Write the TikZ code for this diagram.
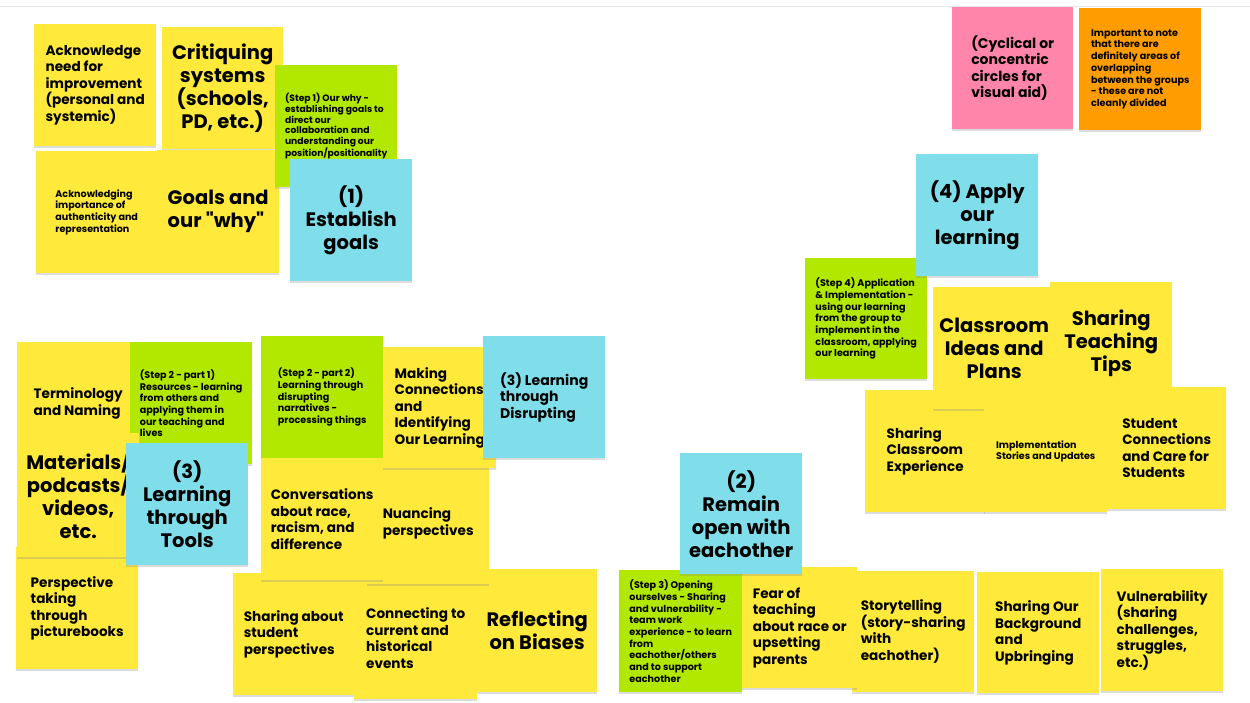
\documentclass[tikz,border=0pt]{standalone}
\usepackage{fontspec}
\setmainfont{Poppins}[Ligatures=TeXOff]
\usetikzlibrary{shadows}
\definecolor{cYellow}{RGB}{255,233,59}
\definecolor{cGreen}{RGB}{178,232,0}
\definecolor{cBlue}{RGB}{128,222,234}
\definecolor{cPink}{RGB}{255,133,170}
\definecolor{cOrange}{RGB}{255,157,0}
\definecolor{cLine}{RGB}{232,232,232}
\tikzset{
  note/.style={rectangle,anchor=north west,inner sep=0pt,
               minimum width=122pt,minimum height=122pt,align=left,
               drop shadow={shadow xshift=0pt,shadow yshift=-1.5pt,
                            opacity=.3,fill=black!45}},
  ylwnote/.style={note,fill=cYellow},
  grnnote/.style={note,fill=cGreen},
  blunote/.style={note,fill=cBlue},
  pnknote/.style={note,fill=cPink},
  orgnote/.style={note,fill=cOrange},
  bigtxt/.style={font=\bfseries\fontsize{19.5}{23}\selectfont},
  midtxt/.style={font=\bfseries\fontsize{13.6}{16.5}\selectfont},
  smltxt/.style={font=\bfseries\fontsize{9.6}{11.7}\selectfont},
  tnytxt/.style={font=\bfseries\fontsize{9.2}{10.8}\selectfont}
}
\begin{document}
\begin{tikzpicture}[x=1pt,y=-1pt]
  \useasboundingbox (0,0) rectangle (1250,702);
  \draw[cLine] (0,6) -- (1250,6);

  % (1) establish goals
  \node[ylwnote,midtxt] (needimp) at (34,24)
      {Acknowledge\\need for\\improvement\\(personal and\\systemic)};
  \node[ylwnote,bigtxt,align=center,minimum width=121pt] (critique) at (162,27)
      {Critiquing\\systems\\(schools,\\PD, etc.)};
  \node[ylwnote,smltxt,minimum width=121pt] (authent) at (36,151)
      {Acknowledging\\importance of\\authenticity and\\representation};
  \node[ylwnote,bigtxt,minimum height=123pt] (goals) at (157,150)
      {Goals and\\our "why"};
  \node[grnnote,tnytxt] (step1) at (275,65)
      {(Step 1) Our why -\\establishing goals to\\direct our\\collaboration and\\understanding our\\position/positionality};
  \node[blunote,bigtxt,align=center] (estab) at (290,159)
      {(1)\\Establish\\goals};

  % (3) learning through tools
  \node[ylwnote,midtxt] (term) at (17,342) {Terminology\\and Naming};
  \node[grnnote,smltxt] (step2a) at (130,342)
      {(Step 2 - part 1)\\Resources - learning\\from others and\\applying them in\\our teaching and\\lives};
  \node[ylwnote,midtxt] (picbook) at (16,547)
      {Perspective\\taking\\through\\picturebooks};
  \node[ylwnote,bigtxt,align=center,minimum height=124pt] (materials) at (17,433)
      {Materials/\\podcasts/\\videos,\\etc.};
  \node[blunote,bigtxt,align=center] (tools) at (126,443)
      {(3)\\Learning\\through\\Tools};

  % (3) learning through disrupting
  \node[ylwnote,bigtxt,align=center,minimum width=120pt,minimum height=123pt] (biases) at (477,569)
      {Reflecting\\on Biases};
  \node[ylwnote,midtxt,minimum width=121pt] (stuper) at (233,573)
      {Sharing about\\student\\perspectives};
  \node[ylwnote,midtxt,minimum width=123pt] (current) at (354,577)
      {Connecting to\\current and\\historical\\events};
  \node[ylwnote,midtxt] (nuance) at (367,462) {Nuancing\\perspectives};
  \node[ylwnote,midtxt,minimum width=113pt,minimum height=121pt] (connect) at (383,347)
      {Making\\Connections\\and\\Identifying\\Our Learning};
  \node[grnnote,smltxt] (step2b) at (261,336)
      {(Step 2 - part 2)\\Learning through\\disrupting\\narratives -\\processing things};
  \node[ylwnote,midtxt] (convo) at (261,458)
      {Conversations\\about race,\\racism, and\\difference};
  \node[blunote,font=\bfseries\fontsize{14}{16.5}\selectfont] (disrupt) at (483,336)
      {(3) Learning\\through\\Disrupting};

  % side notes
  \node[pnknote,font=\bfseries\fontsize{14}{16.5}\selectfont,minimum width=121pt] (visual) at (952,7)
      {(Cyclical or\\concentric\\circles for\\visual aid)};
  \node[orgnote,smltxt] (overlap) at (1079,8)
      {Important to note\\that there are\\definitely areas of\\overlapping\\between the groups\\- these are not\\cleanly divided};

  % (4) apply our learning
  \node[grnnote,smltxt,minimum height=121pt] (step4) at (805,258)
      {(Step 4) Application\\\& Implementation -\\using our learning\\from the group to\\implement in the\\classroom, applying\\our learning};
  \node[blunote,bigtxt,align=center] (apply) at (916,154)
      {(4) Apply\\our\\learning};
  \node[ylwnote,bigtxt,align=center] (tips) at (1050,282)
      {Sharing\\Teaching\\Tips};
  \node[ylwnote,midtxt,minimum width=120pt] (exper) at (865,390)
      {Sharing\\Classroom\\Experience};
  \node[ylwnote,bigtxt,align=center] (ideas) at (933,287)
      {Classroom\\Ideas and\\Plans};
  \node[ylwnote,font=\bfseries\fontsize{9.6}{11}\selectfont,minimum width=123pt] (implem) at (984,390)
      {Implementation\\Stories and Updates};
  \node[ylwnote,midtxt,minimum width=119pt] (care) at (1107,387)
      {Student\\Connections\\and Care for\\Students};

  % (2) remain open
  \node[grnnote,smltxt,minimum width=123pt] (step3) at (619,570)
      {(Step 3) Opening\\ourselves - Sharing\\and vulnerability -\\team work\\experience - to learn\\from\\eachother/others\\and to support\\eachother};
  \node[ylwnote,midtxt,minimum height=121pt] (story) at (852,571)
      {Storytelling\\(story-sharing\\with\\eachother)};
  \node[ylwnote,midtxt,minimum width=115pt,minimum height=121pt] (fear) at (742,567)
      {Fear of\\teaching\\about race or\\upsetting\\parents};
  \node[ylwnote,midtxt,minimum height=121pt] (backgr) at (977,572)
      {Sharing Our\\Background\\and\\Upbringing};
  \node[ylwnote,midtxt] (vulner) at (1101,569)
      {Vulnerability\\(sharing\\challenges,\\struggles,\\etc.)};
  \node[blunote,bigtxt,align=center,minimum height=121pt] (remain) at (680,453)
      {(2)\\Remain\\open with\\eachother};
\end{tikzpicture}
\end{document}
